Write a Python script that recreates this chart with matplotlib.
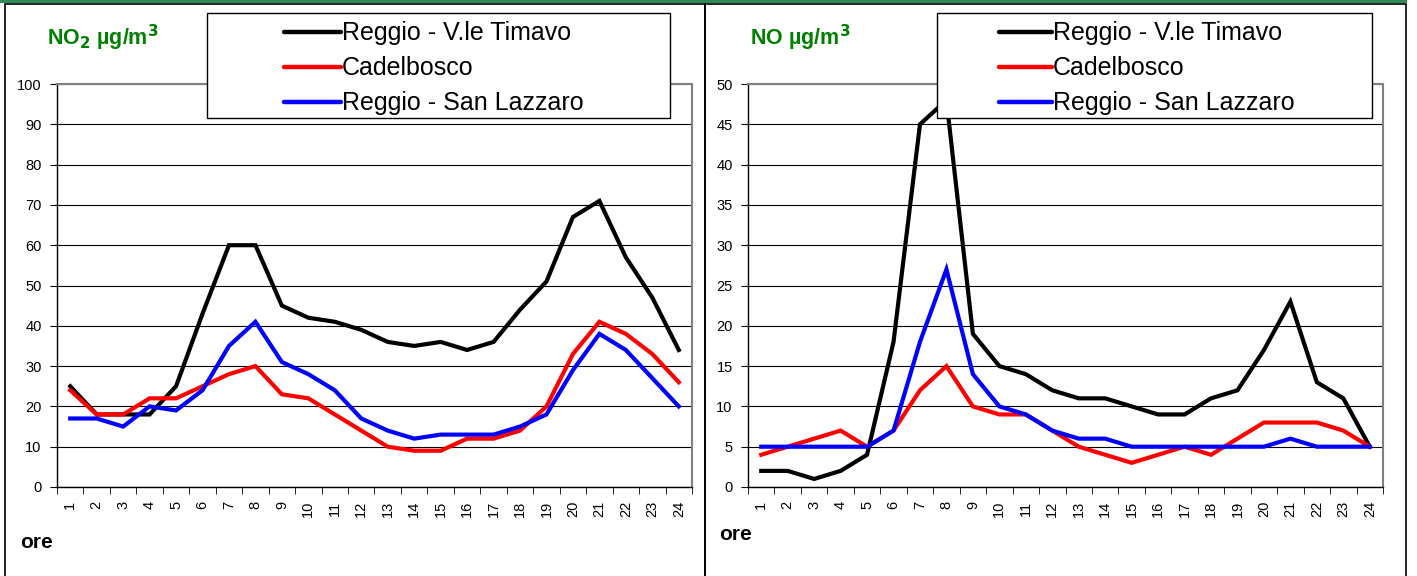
import matplotlib
matplotlib.use("Agg")
import matplotlib.pyplot as plt
from matplotlib.lines import Line2D
from matplotlib.patches import Rectangle

plt.rcParams['font.family'] = ['Liberation Sans', 'DejaVu Sans']

W, H = 1417, 576

hours = list(range(1, 25))
series_names = ["Reggio - V.le Timavo", "Cadelbosco", "Reggio - San Lazzaro"]
series_colors = ["black", "red", "blue"]

# NO2 (µg/m3)
no2_timavo = [25, 18, 18, 18, 25, 43, 60, 60, 45, 42, 41, 39, 36, 35, 36, 34, 36, 44, 51, 67, 71, 57, 47, 34]
no2_cadelbosco = [24, 18, 18, 22, 22, 25, 28, 30, 23, 22, 18, 14, 10, 9, 9, 12, 12, 14, 20, 33, 41, 38, 33, 26]
no2_lazzaro = [17, 17, 15, 20, 19, 24, 35, 41, 31, 28, 24, 17, 14, 12, 13, 13, 13, 15, 18, 29, 38, 34, 27, 20]

# NO (µg/m3)
no_timavo = [2, 2, 1, 2, 4, 18, 45, 48, 19, 15, 14, 12, 11, 11, 10, 9, 9, 11, 12, 17, 23, 13, 11, 5]
no_cadelbosco = [4, 5, 6, 7, 5, 7, 12, 15, 10, 9, 9, 7, 5, 4, 3, 4, 5, 4, 6, 8, 8, 8, 7, 5]
no_lazzaro = [5, 5, 5, 5, 5, 7, 18, 27, 14, 10, 9, 7, 6, 6, 5, 5, 5, 5, 5, 5, 6, 5, 5, 5]


def fx(x):
    return x / W


def fy(y):
    return 1 - y / H


def px_rect(x0, y0, x1, y1):
    # pixel box (top-left origin) -> figure fraction [left, bottom, width, height]
    return [x0 / W, 1 - y1 / H, (x1 - x0) / W, (y1 - y0) / H]


def draw_legend(fig, box, handle_x):
    x0, y0, x1, y1 = box
    fig.patches.append(Rectangle((fx(x0), fy(y1)), (x1 - x0) / W, (y1 - y0) / H,
                                 transform=fig.transFigure, facecolor='white',
                                 edgecolor='black', lw=1.0, zorder=20))
    rows = [y0 + 19, y0 + 54, y0 + 89]
    for name, color, ry in zip(series_names, series_colors, rows):
        fig.add_artist(Line2D([fx(handle_x[0]), fx(handle_x[1])], [fy(ry), fy(ry)],
                              transform=fig.transFigure, color=color, lw=3.2,
                              solid_capstyle='round', zorder=21))
        fig.text(fx(handle_x[1] + 1), fy(ry + 1), name, fontsize=18, va='center',
                 ha='left', zorder=22)


def draw_panel(fig, box, ymax, ystep, data, title, title_xy, legend_box, handle_x, ore_xy):
    ax = fig.add_axes(px_rect(*box))
    for values, color in zip(data, series_colors):
        ax.plot(hours, values, color=color, lw=3, solid_joinstyle='miter', zorder=3)

    ax.set_xlim(0.5, 24.5)
    ax.set_ylim(0, ymax)
    ax.set_yticks(range(0, ymax + 1, ystep))
    ax.yaxis.grid(True, color='black', lw=0.8)
    ax.set_axisbelow(True)

    ax.set_xticks(hours)
    ax.set_xticklabels([str(h) for h in hours], rotation=90, fontsize=10.5)
    ax.set_xticks([h + 0.5 for h in range(0, 25)], minor=True)
    ax.tick_params(axis='x', which='major', length=0, pad=10)
    ax.tick_params(axis='x', which='minor', length=5, direction='out', color='black')
    ax.tick_params(axis='y', length=5, direction='out', labelsize=10.5, pad=6)

    for s in ['top', 'right']:
        ax.spines[s].set_color('#808080')
        ax.spines[s].set_linewidth(1.5)
    for s in ['left', 'bottom']:
        ax.spines[s].set_color('black')
        ax.spines[s].set_linewidth(1.0)

    fig.text(fx(title_xy[0]), fy(title_xy[1]), title, color='#008000',
             fontsize=15.5, fontweight='bold', va='center', ha='left')

    draw_legend(fig, legend_box, handle_x)

    fig.text(fx(ore_xy[0]), fy(ore_xy[1]), "ore", fontsize=15,
             fontweight='bold', va='center', ha='left')
    return ax


fig = plt.figure(figsize=(W / 100, H / 100), dpi=100)

# top green strip and panel borders
fig.patches.append(Rectangle((0, fy(3)), 1407 / W, 3 / H, transform=fig.transFigure,
                             facecolor='#2e8b57', edgecolor='none', zorder=0))
fig.patches.append(Rectangle((fx(5), -0.1), 700 / W, 1.1 - 4 / H, transform=fig.transFigure,
                             facecolor='none', edgecolor='black', lw=1.2, zorder=1))
fig.patches.append(Rectangle((fx(705), -0.1), 701 / W, 1.1 - 4 / H, transform=fig.transFigure,
                             facecolor='none', edgecolor='black', lw=1.2, zorder=1))

draw_panel(fig, (57, 84, 692, 487), 100, 10,
           [no2_timavo, no2_cadelbosco, no2_lazzaro],
           r"NO$_\mathbf{2}$ µg/m$^\mathbf{3}$", (47, 38),
           (207, 13, 670, 118), (284, 341), (20, 542))

draw_panel(fig, (748, 84, 1383, 487), 50, 5,
           [no_timavo, no_cadelbosco, no_lazzaro],
           r"NO µg/m$^\mathbf{3}$", (750, 38),
           (937, 13, 1372, 118), (999, 1052), (719, 535))

fig.savefig("out.png", dpi=100)
